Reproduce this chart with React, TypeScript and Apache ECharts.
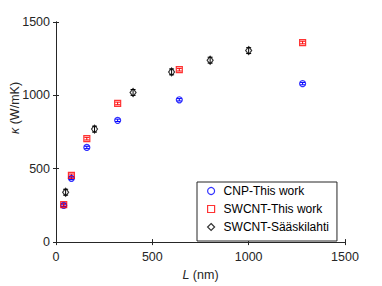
import React, { useEffect, useRef } from "react";
import * as echarts from "echarts";

const L_CNP = [40, 80, 160, 320, 640, 1280];
const K_CNP = [250, 435, 645, 830, 970, 1080];
const E_CNP = [8, 8, 8, 8, 8, 8];

const L_SW = [40, 80, 160, 320, 640, 1280];
const K_SW = [255, 455, 705, 945, 1175, 1360];
const E_SW = [9, 9, 9, 9, 9, 9];

const L_SA = [50, 200, 400, 600, 800, 1000];
const K_SA = [340, 770, 1020, 1160, 1240, 1305];
const E_SA = [20, 20, 20, 20, 20, 20];

const X_TICKS = [0, 500, 1000, 1500];
const Y_TICKS = [0, 500, 1000, 1500];

const NAMES = ["CNP-This work", "SWCNT-This work", "SWCNT-Sääskilahti"];
const COLORS = ["#0000ff", "#ff0000", "#000000"];

const FONT = "Liberation Sans, Arial, Helvetica, sans-serif";
const AX = "#262626";

function pts(xs: number[], ys: number[]) {
  return xs.map((x, i) => [x, ys[i]]);
}
function errs(xs: number[], ys: number[], es: number[]) {
  return xs.map((x, i) => [x, ys[i] - es[i], ys[i] + es[i]]);
}

function errorSeries(data: number[][], color: string) {
  return {
    type: "custom",
    silent: true,
    z: 3,
    data,
    encode: { x: 0, y: [1, 2] },
    renderItem: (params: any, api: any) => {
      const x = api.value(0);
      const lo = api.coord([x, api.value(1)]);
      const hi = api.coord([x, api.value(2)]);
      const c = 2.5;
      const st = { stroke: color, lineWidth: 1 };
      return {
        type: "group",
        children: [
          { type: "line", shape: { x1: lo[0], y1: lo[1], x2: hi[0], y2: hi[1] }, style: st },
          { type: "line", shape: { x1: lo[0] - c, y1: lo[1], x2: lo[0] + c, y2: lo[1] }, style: st },
          { type: "line", shape: { x1: hi[0] - c, y1: hi[1], x2: hi[0] + c, y2: hi[1] }, style: st },
        ],
      };
    },
  };
}

function scatter(name: string, data: number[][], color: string, symbol: string, size: any) {
  return {
    type: "scatter",
    name,
    data,
    symbol,
    symbolSize: size,
    z: 4,
    itemStyle: { color: "rgba(0,0,0,0)", borderColor: color, borderWidth: 1.2 },
  };
}

export default function App() {
  const ref = useRef<HTMLDivElement>(null);
  useEffect(() => {
    if (!ref.current) return;
    const chart = echarts.init(ref.current, null, { renderer: "svg" });
    const axisCommon = {
      min: 0,
      max: 1500,
      interval: 500,
      splitLine: { show: false },
      axisLine: { show: true, lineStyle: { color: AX, width: 1 } },
      axisTick: { show: true, inside: true, length: 3, lineStyle: { color: AX } },
    };
    chart.setOption({
      animation: false,
      backgroundColor: "#ffffff",
      textStyle: { fontFamily: FONT },
      grid: { left: 56, right: 37, top: 22, bottom: 43 },
      xAxis: [
        {
          ...axisCommon,
          type: "value",
          position: "bottom",
          axisLabel: {
            color: AX,
            fontSize: 12.5,
            fontFamily: FONT,
            margin: 8,
            formatter: (v: number) => (X_TICKS.includes(v) ? String(v) : ""),
          },
          name: "{i|L} (nm)",
          nameLocation: "middle",
          nameGap: 20,
          nameTextStyle: {
            color: AX,
            fontSize: 12.5,
            fontFamily: FONT,
            rich: { i: { fontStyle: "italic", fontSize: 12.5, fontFamily: FONT, color: AX } },
          },
        },
        {
          ...axisCommon,
          type: "value",
          position: "top",
          axisLabel: { show: false },
        },
      ],
      yAxis: [
        {
          ...axisCommon,
          type: "value",
          position: "left",
          axisLabel: {
            color: AX,
            fontSize: 12.5,
            fontFamily: FONT,
            margin: 6,
            formatter: (v: number) => (Y_TICKS.includes(v) ? String(v) : ""),
          },
        },
        {
          ...axisCommon,
          type: "value",
          position: "right",
          axisLabel: { show: false },
        },
      ],
      legend: {
        orient: "vertical",
        left: 197,
        top: 182,
        padding: [3, 8, 8, 10],
        itemGap: 6,
        itemWidth: 7,
        itemHeight: 7,
        borderColor: AX,
        borderWidth: 1,
        backgroundColor: "#ffffff",
        textStyle: { fontSize: 12, fontFamily: FONT, color: "#000", lineHeight: 11, padding: [0, 0, 0, 4] },
        data: NAMES.map((n, i) => ({
          name: n,
          itemStyle: { color: "rgba(0,0,0,0)", borderColor: COLORS[i], borderWidth: 1.2 },
        })),
      },
      series: [
        errorSeries(errs(L_CNP, K_CNP, E_CNP), COLORS[0]),
        errorSeries(errs(L_SW, K_SW, E_SW), COLORS[1]),
        errorSeries(errs(L_SA, K_SA, E_SA), COLORS[2]),
        scatter(NAMES[0], pts(L_CNP, K_CNP), COLORS[0], "circle", 6),
        scatter(NAMES[1], pts(L_SW, K_SW), COLORS[1], "rect", 6),
        scatter(NAMES[2], pts(L_SA, K_SA), COLORS[2], "diamond", [6, 8]),
      ],
      graphic: [
        {
          type: "text",
          x: 15,
          y: 108,
          rotation: Math.PI / 2,
          style: {
            text: "{i|κ} (W/mK)",
            fill: AX,
            fontSize: 12.5,
            fontFamily: FONT,
            align: "center",
            verticalAlign: "middle",
            rich: { i: { fontStyle: "italic", fontSize: 12.5, fontFamily: FONT, fill: AX } },
          },
        },
      ],
    });
    return () => chart.dispose();
  }, []);
  return (
    <div
      ref={ref}
      style={{ position: "absolute", left: 0, top: 0, width: 382, height: 286 }}
    />
  );
}
